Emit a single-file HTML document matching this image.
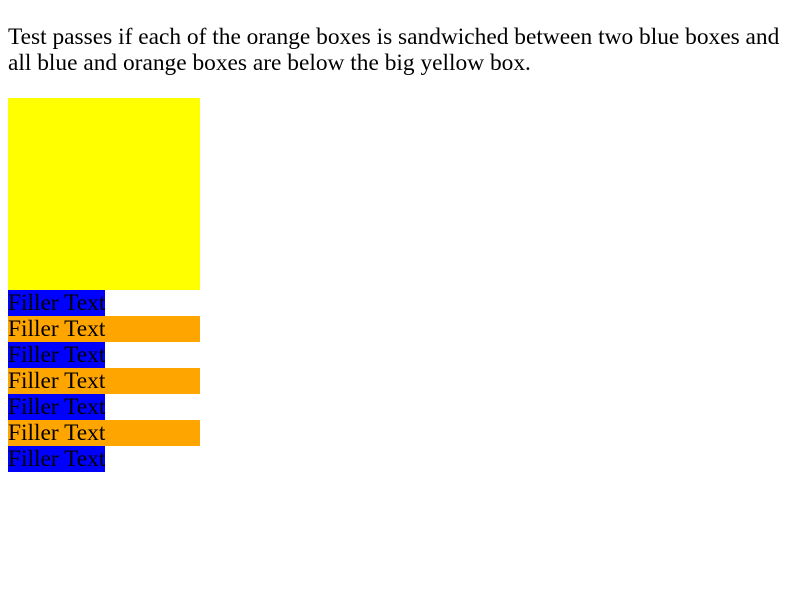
<!DOCTYPE html>
<html>
<head>
<meta charset="utf-8">
<style>
  html, body { margin: 0; padding: 0; background: #fff; }
  body { width: 800px; height: 600px; position: relative; overflow: hidden;
         font-family: "Liberation Serif", serif; font-size: 23.4px; color: #000; }
  #desc { position: absolute; left: 8px; top: 24px; margin: 0; line-height: 26px; width: 778px; }
  #yellow { position: absolute; left: 8px; top: 98px; width: 192px; height: 192px; background: #ff0; }
  .row { position: absolute; left: 8px; height: 26px; line-height: 26px; white-space: nowrap; }
  .blue { background: #00f; width: 97px; }
  .orange { background: #ffa500; width: 192px; }
</style>
</head>
<body>
<p id="desc">Test passes if each of the orange boxes is sandwiched between two blue boxes and all blue and orange boxes are below the big yellow box.</p>
<div id="yellow"></div>
<div class="row blue" style="top:290px">Filler Text</div>
<div class="row orange" style="top:316px">Filler Text</div>
<div class="row blue" style="top:342px">Filler Text</div>
<div class="row orange" style="top:368px">Filler Text</div>
<div class="row blue" style="top:394px">Filler Text</div>
<div class="row orange" style="top:420px">Filler Text</div>
<div class="row blue" style="top:446px">Filler Text</div>
</body>
</html>
